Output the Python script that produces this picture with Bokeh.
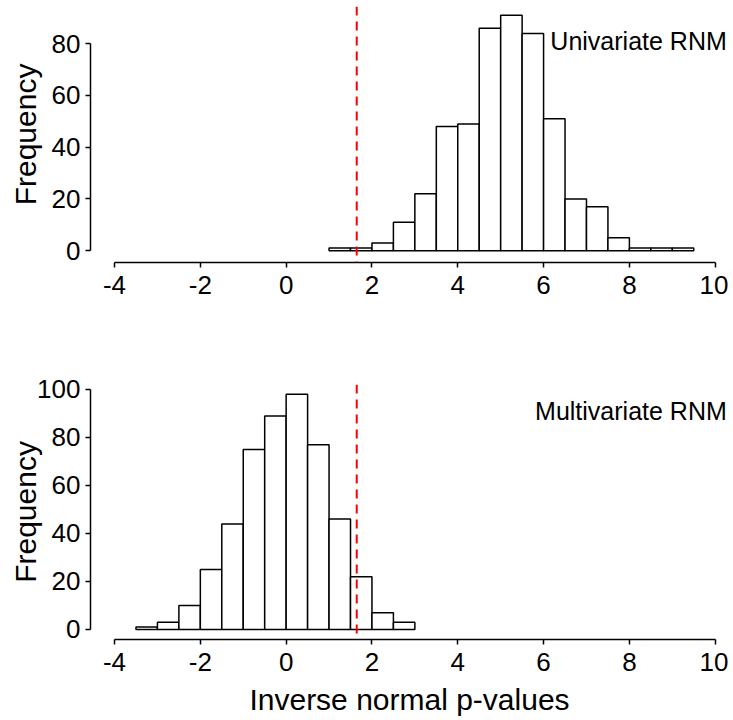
from bokeh.plotting import figure
from bokeh.models import Range1d, FixedTicker, Span, Label, ColumnDataSource
from bokeh.layouts import column
from bokeh.embed import file_html
from bokeh.resources import INLINE

# ---- data ----
uni_edges = [1.0, 1.5, 2.0, 2.5, 3.0, 3.5, 4.0, 4.5, 5.0, 5.5, 6.0, 6.5, 7.0, 7.5, 8.0, 8.5, 9.0, 9.5]
uni_counts = [1, 1, 3, 11, 22, 48, 49, 86, 91, 84, 51, 20, 17, 5, 1, 1, 1]

multi_edges = [-3.5, -3.0, -2.5, -2.0, -1.5, -1.0, -0.5, 0.0, 0.5, 1.0, 1.5, 2.0, 2.5, 3.0]
multi_counts = [1, 3, 10, 25, 44, 75, 89, 98, 77, 46, 22, 7, 3]

critical_value = 1.645
x_ticks = [-4, -2, 0, 2, 4, 6, 8, 10]
uni_y_ticks = [0, 20, 40, 60, 80]
multi_y_ticks = [0, 20, 40, 60, 80, 100]
uni_label = "Univariate RNM"
multi_label = "Multivariate RNM"
x_title = "Inverse normal p-values"
y_title = "Frequency"

FONT = "Liberation Sans"


def make_panel(edges, counts, yticks, label_text, label_y, yr, height,
               border_top, border_bottom, xlabel, ylabel_standoff):
    p = figure(width=728, height=height, output_backend="svg", toolbar_location=None,
               x_range=Range1d(-4.56, 10.31), y_range=Range1d(*yr),
               min_border_left=90, min_border_right=0,
               min_border_top=border_top, min_border_bottom=border_bottom)
    p.outline_line_color = None
    p.grid.visible = False
    p.background_fill_color = "white"
    p.border_fill_color = "white"

    src = ColumnDataSource(dict(left=edges[:-1], right=edges[1:], top=counts,
                                bottom=[0] * len(counts)))
    p.quad(left="left", right="right", top="top", bottom="bottom", source=src,
           fill_color="white", line_color="black", line_width=1.5)

    p.add_layout(Span(location=critical_value, dimension="height", line_color="red",
                      line_width=2, line_dash="9 6"))

    p.add_layout(Label(x=10.27, y=label_y, text=label_text, text_align="right",
                       text_baseline="middle", text_font=FONT, text_font_size="25px",
                       text_color="black"))

    xa = p.xaxis[0]
    xa.ticker = FixedTicker(ticks=x_ticks)
    xa.bounds = (-4, 10)
    xa.major_label_overrides = {t: str(t) for t in x_ticks}
    ya = p.yaxis[0]
    ya.ticker = FixedTicker(ticks=yticks)
    ya.bounds = (yticks[0], yticks[-1])
    for ax in (xa, ya):
        ax.axis_line_width = 1.5
        ax.axis_line_color = "black"
        ax.major_tick_line_width = 1.5
        ax.major_tick_line_color = "black"
        ax.major_tick_in = 0
        ax.major_tick_out = 5
        ax.minor_tick_line_color = None
        ax.major_label_text_font = FONT
        ax.major_label_text_font_size = "26px"
        ax.major_label_text_color = "black"
        ax.axis_label_text_font = FONT
        ax.axis_label_text_font_style = "normal"
        ax.axis_label_text_font_size = "30px"
        ax.axis_label_text_color = "black"
    xa.major_label_standoff = 8
    ya.major_label_standoff = 5
    ya.axis_label = y_title
    ya.axis_label_standoff = ylabel_standoff
    if xlabel:
        xa.axis_label = xlabel
        xa.axis_label_standoff = 9
    return p


p1 = make_panel(uni_edges, uni_counts, uni_y_ticks, uni_label, 80.9,
                (-4.56, 94.4), 340, 6, 78, None, 7)
p2 = make_panel(multi_edges, multi_counts, multi_y_ticks, multi_label, 91.2,
                (-4.17, 102.08), 380, 44, 81, x_title, -8)

layout = column(p1, p2, spacing=0)
open("out.html", "w").write(file_html(layout, INLINE))
